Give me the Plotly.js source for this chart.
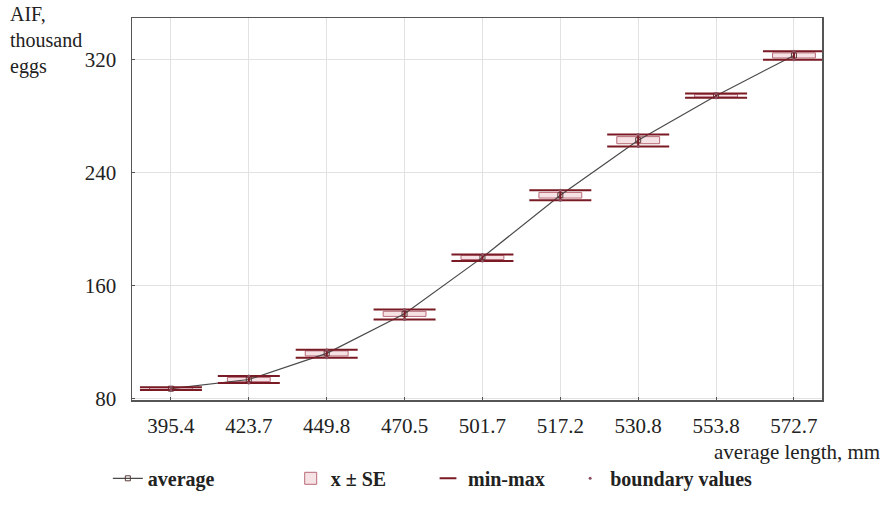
<!DOCTYPE html>
<html>
<head>
<meta charset="utf-8">
<script src="https://cdn.plot.ly/plotly-3.0.1.min.js"></script>
<style>html,body{margin:0;padding:0;background:#fff;}#chart{width:887px;height:518px;}</style>
</head>
<body>
<div id="chart"></div>
<script>
// Data
const lengths = ["395.4", "423.7", "449.8", "470.5", "501.7", "517.2", "530.8", "553.8", "572.7"];
const averages = [87, 93.5, 112, 140, 180, 224, 263, 294.5, 323];
const seValues = [0.8, 1.5, 1.8, 1.8, 1.5, 2.0, 2.5, 1.0, 1.8];
const minValues = [86, 91, 109, 136, 177.5, 220.5, 258.5, 293, 320];
const maxValues = [88, 96, 114.5, 143, 182, 227.5, 267, 296, 326];
const yTicks = [80, 160, 240, 320];

const serif = "Liberation Serif, Times New Roman, serif";
const dark = "#7a1a25";

const seBase = averages.map((a, i) => a - seValues[i]);
const seSpan = seValues.map(s => 2 * s);
const errPlus = maxValues.map((m, i) => m - averages[i]);
const errMinus = minValues.map((m, i) => averages[i] - m);
const boundX = lengths.concat(lengths);
const boundY = minValues.concat(maxValues);

const traces = [
  {
    type: "scatter", mode: "lines+markers", name: "average", legend: "legend",
    x: lengths, y: averages,
    line: {color: "#4a4a4a", width: 1.2},
    marker: {symbol: "square-open", size: 5, color: "#5a3a3a", line: {width: 1}}
  },
  {
    type: "bar", name: "x \u00b1 SE", legend: "legend2",
    x: lengths, y: seSpan, base: seBase, width: 0.55,
    marker: {color: "rgba(236,190,198,0.45)", line: {color: "#b86a78", width: 1}}
  },
  {
    type: "scatter", mode: "markers", name: "min-max", legend: "legend3",
    x: lengths, y: averages,
    marker: {symbol: "line-ew-open", size: 1, color: dark, line: {color: dark, width: 1.5}},
    error_y: {type: "data", symmetric: false, array: errPlus, arrayminus: errMinus,
              color: dark, thickness: 2, width: 31}
  },
  {
    type: "scatter", mode: "markers", name: "boundary values", legend: "legend4",
    x: boundX, y: boundY,
    marker: {symbol: "circle", size: 3, color: "#8a5060"}
  }
];

const legendFont = {family: serif, size: 20, color: "#222", weight: "bold"};
function legendAt(x, sizing) {
  return {orientation: "h", x: x, xanchor: "left", y: -0.205, yanchor: "middle",
          font: legendFont, bgcolor: "rgba(0,0,0,0)", itemsizing: sizing};
}

const layout = {
  width: 887, height: 518,
  margin: {l: 132, r: 65, t: 18, b: 118},
  paper_bgcolor: "#fff", plot_bgcolor: "#fff",
  barmode: "overlay",
  showlegend: true,
  font: {family: serif, color: "#222", size: 20},
  xaxis: {
    type: "category", range: [-0.5, 8.36],
    showgrid: true, gridcolor: "#e2e2e2", gridwidth: 1,
    showline: true, linecolor: "#555", linewidth: 1.5, mirror: true,
    ticks: "inside", ticklen: 3, tickcolor: "#555",
    ticklabelstandoff: 6,
    tickfont: {family: serif, size: 21, color: "#222"},
    zeroline: false, fixedrange: true
  },
  yaxis: {
    range: [79, 349.5], tickvals: yTicks, ticktext: yTicks.map(String),
    showgrid: true, gridcolor: "#e2e2e2", gridwidth: 1,
    showline: true, linecolor: "#555", linewidth: 1.5, mirror: true,
    ticks: "inside", ticklen: 3, tickcolor: "#555",
    ticklabelstandoff: 10,
    tickfont: {family: serif, size: 21, color: "#222"},
    zeroline: false, fixedrange: true
  },
  legend: legendAt(-0.035, "trace"),
  legend2: legendAt(0.23, "trace"),
  legend3: legendAt(0.429, "constant"),
  legend4: legendAt(0.635, "trace"),
  annotations: [
    {
      text: "AIF,<br>thousand<br>eggs", xref: "paper", yref: "paper",
      x: -0.18, y: 1.045, xanchor: "left", yanchor: "top", align: "left",
      showarrow: false, font: {family: serif, size: 20, color: "#222"}
    },
    {
      text: "average length, mm", xref: "paper", yref: "paper",
      x: 1.087, y: -0.135, xanchor: "right", yanchor: "middle",
      showarrow: false, font: {family: serif, size: 21, color: "#222"}
    }
  ]
};

Plotly.newPlot("chart", traces, layout, {displayModeBar: false, staticPlot: true});
</script>
</body>
</html>
